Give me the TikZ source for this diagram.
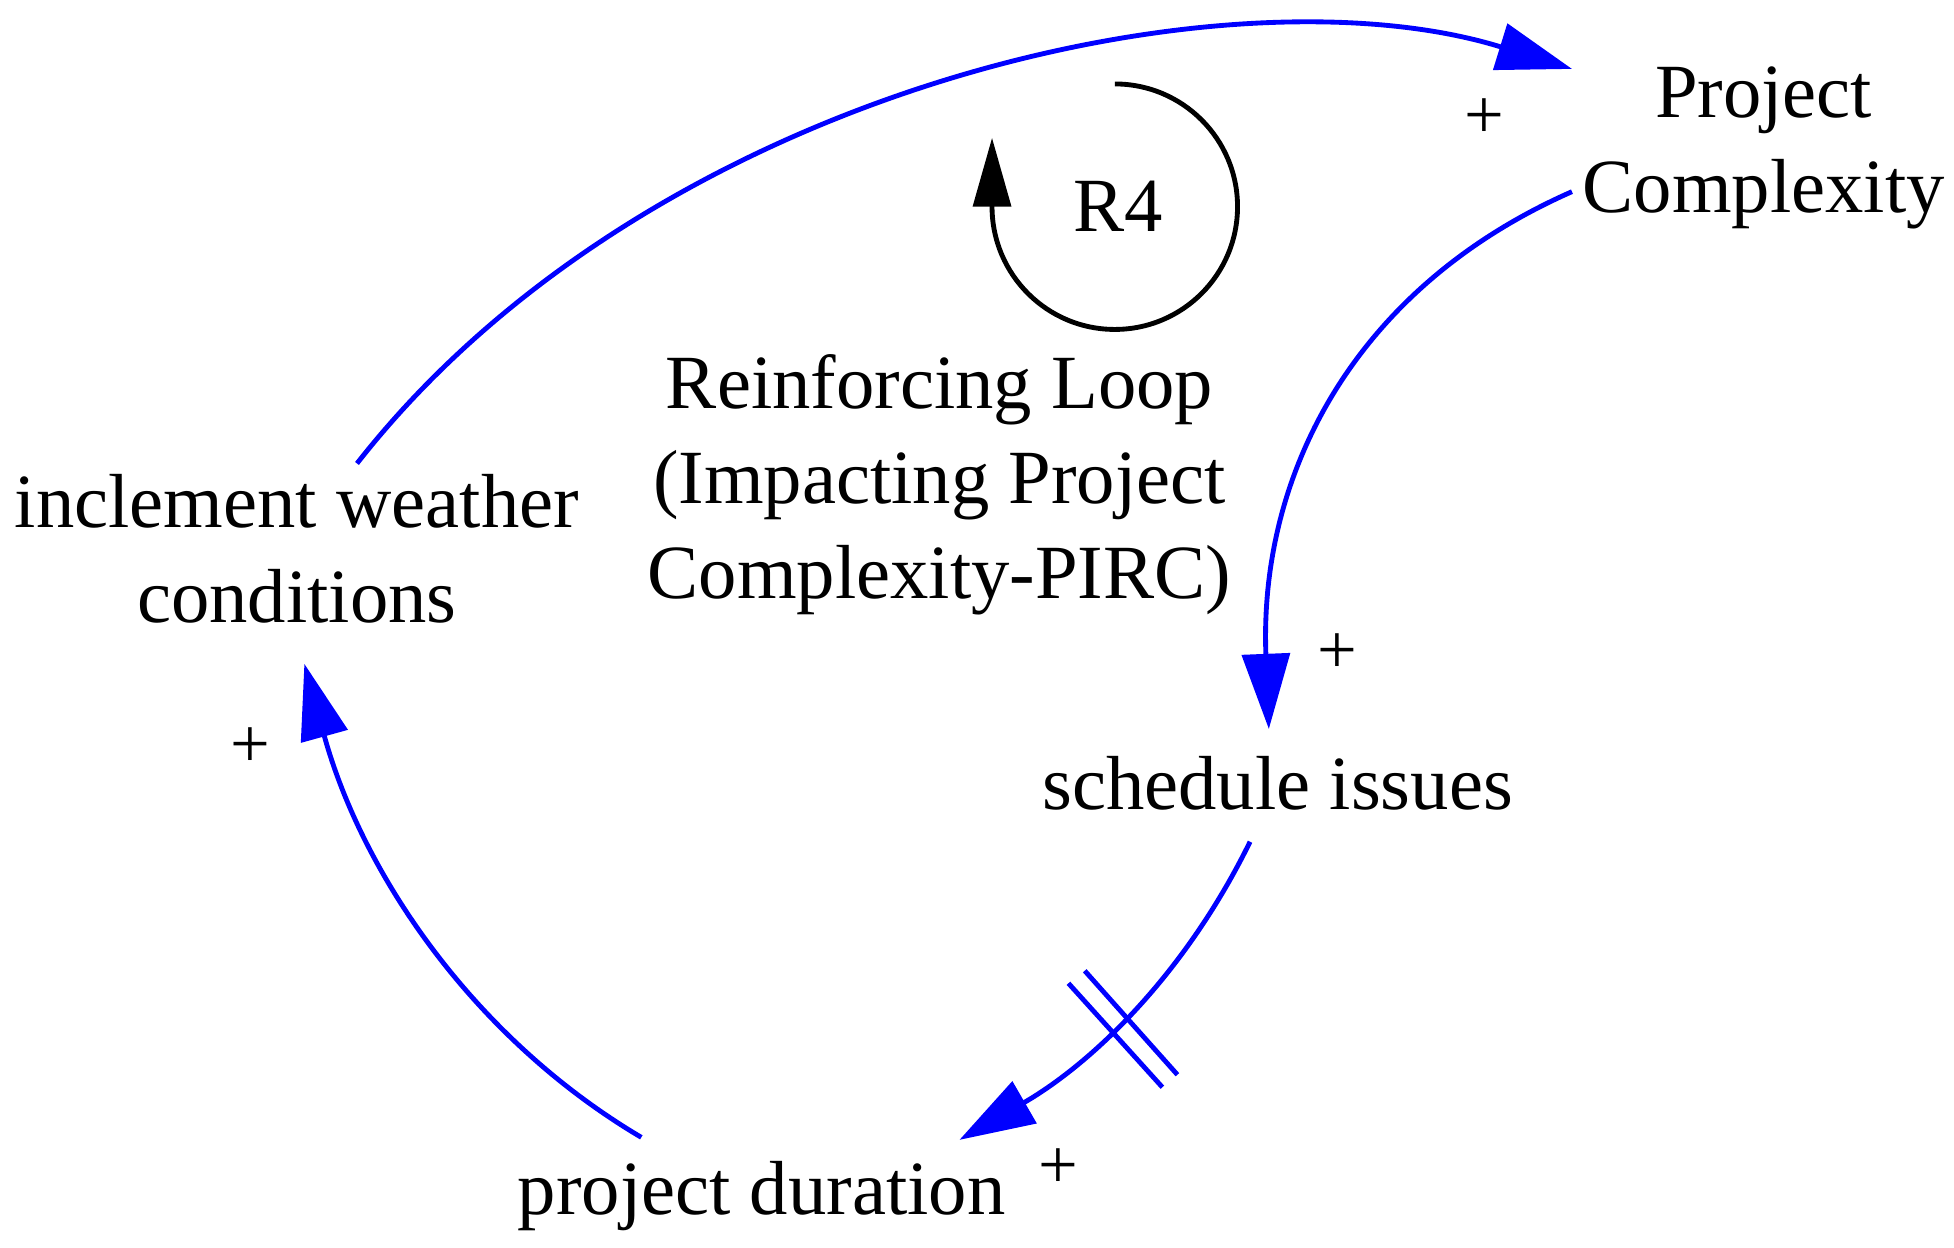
\documentclass[tikz,border=0pt]{standalone}
\usepackage{fontspec}
\setmainfont{Liberation Serif}
\usetikzlibrary{arrows.meta}

\begin{document}
\begin{tikzpicture}[x=0.01cm, y=-0.01cm,
    var/.style={align=center, font=\fontsize{17.4}{21.5}\selectfont},
    sign/.style={font=\fontsize{16}{18}\selectfont},
    link/.style={blue, line width=1.1pt, -{Triangle[length=0.6cm, width=0.38cm]}}]
    \useasboundingbox (0,0) rectangle (1560,996);

    % variables
    \node[var] (complexity) at (1408,118) {Project\\Complexity};
    \node[var] (weather) at (237,438) {inclement weather\\conditions};
    \node[var] (schedule) at (1020,625) {schedule issues};
    \node[var] (duration) at (608,955) {project duration};
    \node[var] (loopname) at (750,387) {Reinforcing Loop\\(Impacting Project\\Complexity-PIRC)};
    \node[var] (r4) at (893,165) {R4};

    % loop symbol
    \draw[line width=1.1pt, -{Triangle[length=0.55cm, width=0.3cm]}]
        (890,67) arc[start angle=-90, end angle=180, radius=98] -- (792,110);

    % end points
    \coordinate (w-out) at (285,370);
    \coordinate (c-in) at (1255,55);
    \coordinate (c-out) at (1255,153);
    \coordinate (s-in) at (1013,582);
    \coordinate (s-out) at (998,672);
    \coordinate (d-in) at (766,910);
    \coordinate (d-out) at (512,908);
    \coordinate (w-in) at (243,530);

    % links
    \draw[link] (w-out) .. controls (520,70) and (980,-30) .. (c-in);
    \draw[link] (c-out) .. controls (1080,230) and (1005,380) .. (s-in);
    \draw[link] (s-out) .. controls (945,780) and (870,850) .. (d-in);
    \draw[link] (d-out) .. controls (380,830) and (290,700) .. (w-in);

    % delay mark
    \draw[blue, line width=1.1pt] (853,785) -- (928,868) (866,775) -- (940,858);

    % polarities
    \node[sign] (p1) at (1185,95) {+};
    \node[sign] (p2) at (1068,522) {+};
    \node[sign] (p3) at (845,933) {+};
    \node[sign] (p4) at (200,597) {+};
\end{tikzpicture}
\end{document}
